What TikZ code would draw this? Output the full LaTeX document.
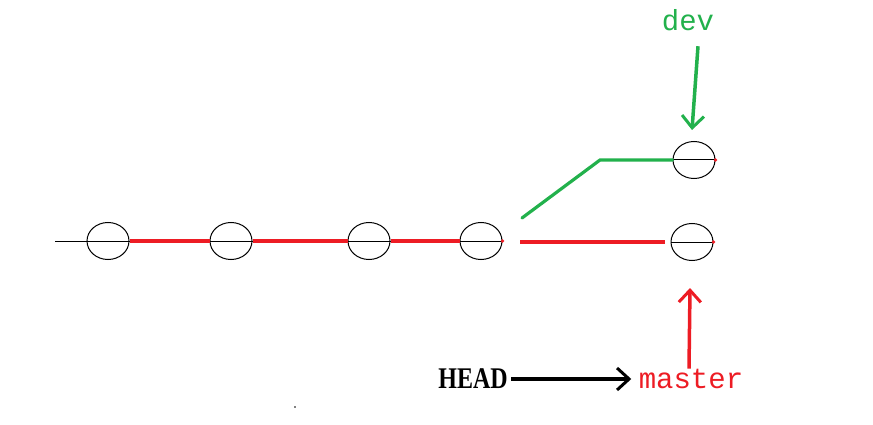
\documentclass[tikz,border=0pt]{standalone}
\usepackage{fontspec}
\setmainfont{Liberation Serif}
\newfontfamily\monofont{Liberation Mono}
\usetikzlibrary{arrows.meta,calc,shapes.geometric}
\definecolor{commitRed}{HTML}{ED1C24}
\definecolor{devGreen}{HTML}{22B14C}
\tikzset{
  commit/.style={draw,ellipse,minimum width=42pt,minimum height=37pt,inner sep=0pt,line width=1pt},
  branchline/.style={line width=3.2pt},
  pointer/.style={line width=3.5pt,-{Straight Barb[length=12pt,width=22pt,line width=3pt]}}
}
\begin{document}
\begin{tikzpicture}[x=1pt,y=-1pt]
\useasboundingbox (0,0) rectangle (873,425);
% commits
\node[commit] (c1) at (108,241) {};
\node[commit] (c2) at (231,241) {};
\node[commit] (c3) at (369,241) {};
\node[commit] (c4) at (481,241) {};
\node[commit] (c5) at (692,242) {};
\node[commit] (c6) at (694,160) {};
\coordinate (tail) at (55,241);
\coordinate (mstart) at (520,242);
\coordinate (dstart) at (522,218);
\coordinate (bend) at (600,160);
% lines inside the commits
\draw[line width=1pt] (tail) -- (c1.east);
\foreach \c in {c2,c3,c4,c5,c6} \draw[line width=1pt] (\c.west) -- (\c.east);
\foreach \c in {c4,c5,c6} \fill[commitRed] (\c.east) circle (1.8pt);
% master line
\draw[commitRed,branchline] (c1.east) -- (c2.west);
\draw[commitRed,branchline] (c2.east) -- (c3.west);
\draw[commitRed,branchline] (c3.east) -- (c4.west);
\draw[commitRed,branchline] (mstart) -- ([xshift=-6pt]c5.west);
% dev line
\draw[devGreen,branchline,line cap=round] (dstart) -- (bend) -- (c6.west);
% labels
\node[devGreen,font=\monofont\fontsize{29}{30}\selectfont] (dev) at (688,20) {dev};
\node[commitRed,font=\monofont\fontsize{29}{30}\selectfont] (master) at (691,379) {master};
\node[font=\bfseries\fontsize{30}{32}\selectfont] (head) at (473,379) {\scalebox{0.8}[1]{HEAD}};
% pointers
\draw[devGreen,pointer] ([xshift=10pt,yshift=-12pt]dev.south) -- ([xshift=-2pt,yshift=11pt]c6.north);
\draw[commitRed,pointer] ([xshift=-2pt,yshift=-3pt]master.north) -- ([xshift=-2pt,yshift=-27pt]c5.south);
\draw[pointer] (head.east) -- ([xshift=-4pt]master.west);
\fill (295,407) circle (0.8pt);
\end{tikzpicture}
\end{document}
